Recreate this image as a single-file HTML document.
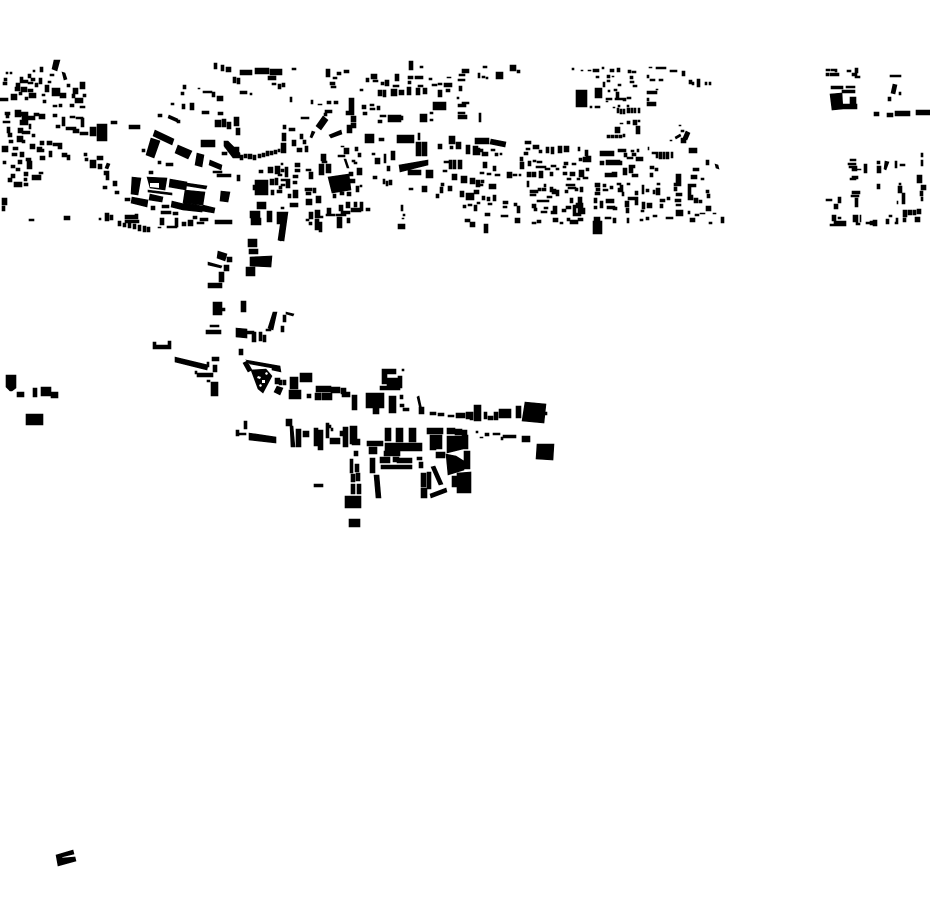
<!DOCTYPE html>
<html><head><meta charset="utf-8"><title>Figure-ground map</title>
<style>html,body{margin:0;padding:0;background:#fff;width:930px;height:924px;overflow:hidden}svg{display:block}</style></head>
<body>
<svg width="930" height="924" viewBox="0 0 930 924" xmlns="http://www.w3.org/2000/svg">
<rect width="930" height="924" fill="#fff"/>
<path fill="#000" stroke="#000" stroke-width="0.6" d="
M54 60L60 60L57 71L52 69z
M33 70h2v2h-2z M40 67h3v5h-3z M6 72h2v2h-2z M10 72h2v2h-2z M4 78h3v3h-3z M3 82h4v3h-4z M20 77h3v3h-3z M28 74h3v4h-3z M31 78h4v3h-4z M39 78h3v6h-3z M50 74h4v2h-4z M48 81h3v2h-3z
M62 72l3 1l2 6l-3 1z M16 83h4v4h-4z M20 80h8v3h-8z M28 82h5v2h-5z M35 83h3v4h-3z M45 85h4v7h-4z M52 88h8v8h-8z M60 93h6v5h-6z M67 84h3v3h-3z M73 88h5v6h-5z M80 82h5v7h-5z M15 87h5v4h-5z M21 87h6v5h-6z M28 89h5v3h-5z
M0 98h8v3h-8z M11 94h6v6h-6z M19 92h3v3h-3z M25 97h3v3h-3z M29 93h7v5h-7z M42 94h3v2h-3z M43 100h3v3h-3z M53 105h4v2h-4z M59 104h3v3h-3z M70 104h4v3h-4z M75 98h8v5h-8z M80 106h5v2h-5z M72 94h3v4h-3z M83 94h3v3h-3z
M5 112h5v3h-5z M15 110h6v7h-6z M20 112h8v4h-8z M22 116h13v4h-13z M34 113h5v3h-5z M39 114h6v5h-6z M53 114h4v3h-4z M62 117h3v9h-3z M70 116h5v2h-5z M76 117h7v2h-7z M81 118h3v9h-3z M56 125h4v3h-4z M66 127h10v3h-10z M73 129h6v4h-6z M80 132h8v3h-8z M90 127h6v9h-6z M97 124h10v17h-10z M111 121h6v3h-6z M129 125h11v4h-11z
M3 121h7v2h-7z M6 115h3v3h-3z M7 127h3v6h-3z M8 133h4v4h-4z M9 140h4v3h-4z M20 120h8v5h-8z M18 128h5v5h-5z M22 131h8v3h-8z M17 136h6v6h-6z M22 140h3v3h-3z M29 124h2v5h-2z M32 134h3v3h-3z
M2 146h6v6h-6z M13 147h5v3h-5z M12 153h5v3h-5z M30 144h5v5h-5z M40 141h4v4h-4z M47 141h5v4h-5z M53 143h5v3h-5z M58 143h4v6h-4z M37 147h5v5h-5z M41 149h3v3h-3z M49 151h3v6h-3z M62 153h5v4h-5z M67 155h3v5h-3z M40 156h5v4h-5z M26 158h5v3h-5z M27 161h5v8h-5z M18 160h4v4h-4z M3 161h3v3h-3z M11 165h4v3h-4z M16 168h4v3h-4z M20 152h4v5h-4z
M39 172h4v2h-4z M32 175h9v5h-9z M24 172h4v4h-4z M11 174h4v4h-4z M8 178h4v4h-4z M24 178h3v3h-3z M14 182h8v5h-8z M24 183h4v3h-4z M2 198h5v7h-5z M2 206h3v5h-3z M29 219h5v2h-5z M64 216h6v4h-6z
M84 153h3v3h-3z M85 158h3v3h-3z M90 160h6v8h-6z M98 164h4v5h-4z M107 163l3 1l-2 5l-3 -1z M97 156h6v4h-6z M104 171h5v4h-5z M106 175h3v5h-3z M113 181h4v5h-4z M103 186h4v3h-4z M115 191h4v3h-4z
M155 130L174 139L172 145L153 136z M151 138L160 141L154 158L146 155z M142 149h3v3h-3z M158 161h3v3h-3z M166 163h7v3h-7z M178 145L192 151L188 159L175 153z M197 153L204 155L202 167L195 165z M210 160L222 165L221 170L209 165z M213 171h9v2h-9z M201 140h14v7h-14z M224 141L228 141L240 153L240 158L233 158L224 146z M217 174h14v3h-14z M237 175h3v6h-3z M221 191L230 192L228 202L220 201z M215 220h17v4h-17z
M132 177L141 178L138 195L131 194z M147 177L167 178L165 190L150 188z M148 190L172 193L172 195L148 192z M150 194L163 197L162 202L149 200z M132 197L148 200L147 207L131 203z
M170 179L187 182L186 190L169 187z M187 183L207 186L206 189L187 186z M185 190L205 192L203 205L183 203z M172 201L184 204L183 210L171 207z M184 203L203 206L202 212L183 210z M203 205L215 208L214 213L202 211z
M125 198h5v3h-5z M149 171h4v3h-4z M151 206h4v4h-4z M162 205h7v3h-7z M161 211h10v3h-10z M173 212h5v3h-5z
M99 218h2v2h-2z M105 213h4v8h-4z M110 215h3v5h-3z M125 215h13v4h-13z M125 220h14v3h-14z M118 221h3v5h-3z M123 223h3v4h-3z M128 223h3v5h-3z M133 224h3v5h-3z M138 225h3v6h-3z M143 226h3v6h-3z M147 227h3v5h-3z M135 214h3v3h-3z M160 218h4v7h-4z M158 227h3v1h-3z M167 226h10v2h-10z M175 218h3v9h-3z M182 222h4v4h-4z M188 220h5v6h-5z M200 218h8v3h-8z M197 222h7v2h-7z M193 216h4v3h-4z
M158 114h4v3h-4z M169 115L178 119L177 122L168 118z M177 120h3v3h-3z M183 85h3v4h-3z M181 92h3v3h-3z M198 88h2v1h-2z M203 91h9v2h-9z M212 92h3v5h-3z M217 96h6v5h-6z M171 103h3v2h-3z M182 104h3v5h-3z M190 103h4v7h-4z M202 111h7v3h-7z M218 112h5v3h-5z M215 120h6v7h-6z M222 119h4v8h-4z M227 122h4v7h-4z M234 117h5v9h-5z M236 128h4v7h-4z M214 63h3v6h-3z M221 65h3v6h-3z M226 67h5v5h-5z M233 77h3v6h-3z M237 78h3v6h-3z
M240 70h12v5h-12z M255 68h14v6h-14z M270 69h12v6h-12z M292 68h4v2h-4z M268 76h8v4h-8z M272 83h4v2h-4z M278 84h3v5h-3z M282 83h3v4h-3z M240 91h7v3h-7z M250 93h2v2h-2z
M326 69h4v8h-4z M333 77h4v2h-4z M337 72h4v3h-4z M344 70h5v3h-5z M330 82h5v3h-5z M331 86h5v2h-5z M360 89h3v2h-3z M366 78h3v4h-3z M371 74h6v5h-6z M373 80h5v2h-5z M381 82h3v3h-3z M385 80h4v6h-4z M395 74h4v7h-4z M393 85h6v2h-6z M409 61h4v9h-4z M420 66h3v2h-3z M408 76h5v3h-5z M415 76h8v3h-8z M429 78h3v2h-3z M408 81h3v3h-3z M418 85h5v2h-5z M432 84h5v2h-5z M438 83h4v2h-4z M444 83h8v4h-8z M447 77h4v1h-4z M462 69h7v4h-7z M459 74h6v2h-6z M458 79h7v2h-7z M459 86h3v5h-3z M478 73h2v5h-2z
M378 90h4v6h-4z M383 90h3v7h-3z M391 89h6v7h-6z M399 90h5v5h-5z M407 87h4v8h-4z M416 88h4v7h-4z M423 88h4v6h-4z M438 90h4v7h-4z M446 89h4v3h-4z
M290 97h2v5h-2z M311 100h2v4h-2z M318 104h4v1h-4z M327 101h4v3h-4z M334 101h4v3h-4z M349 98h5v17h-5z M346 111h4v4h-4z M351 116h5v6h-5z M351 123h5v5h-5z M347 125h5v6h-5z M347 131h5v2h-5z M362 105h4v4h-4z M363 112h4v3h-4z M370 104h4v2h-4z M377 106h3v4h-3z M370 108h5v2h-5z
M325 110h7v3h-7z M324 113h3v3h-3z M323 116L328 120L321 130L316 126z M301 117h8v2h-8z M312 131L315 132L312 138L310 137z M329 135L341 130L342 134L331 138z
M433 102h13v8h-13z M458 115h9v4h-9z M458 112h7v2h-7z M458 104h8v3h-8z M462 102h7v2h-7z M457 97h2v2h-2z M430 112h3v2h-3z M430 119h3v2h-3z M420 114h7v8h-7z M400 116h3v4h-3z M388 115h13v7h-13z M380 115h6v2h-6z M378 120h4v3h-4z M479 113h2v9h-2z
M365 134h9v9h-9z M379 138h5v3h-5z M397 135h17v8h-17z M418 133h2v7h-2z M416 142h5v14h-5z M422 142h5v14h-5z M438 144h4v5h-4z M449 136h6v8h-6z M450 146h3v3h-3z M456 142h5v7h-5z M466 145h4v9h-4z M473 146h5v9h-5z M475 138h5v6h-5z M478 148h2v7h-2z
M283 125h3v4h-3z M289 128h6v3h-6z M282 133h4v8h-4z M281 143h5v10h-5z M292 140h4v6h-4z M300 134h3v5h-3z M303 140h3v4h-3z M297 148h5v4h-5z M305 146h3v6h-3z
M240 155h3v5h-3z M244 154h3v4h-3z M248 154h4v5h-4z M253 155h3v5h-3z M258 154h3v4h-3z M262 153h3v4h-3z M266 151h3v5h-3z M270 151h3v4h-3z M274 150h3v4h-3z M278 149h2v3h-2z
M225 142h3v6h-3z M228 147h11v5h-11z M222 152h5v3h-5z
M281 163h2v2h-2z M259 170h4v3h-4z M268 167h5v6h-5z M275 166h5v8h-5z M285 167h3v7h-3z M295 163h5v4h-5z M295 169h5v3h-5z M281 169h3v3h-3z M278 174h4v2h-4z M285 174h3v3h-3z M293 175h5v3h-5z M270 179h4v6h-4z M275 178h3v7h-3z M281 179h5v2h-5z M281 184h4v2h-4z M286 179h4v9h-4z M293 181h4v3h-4z M271 190h3v5h-3z M277 190h5v3h-5z M279 186h3v3h-3z
M255 180h13v15h-13z M253 185h3v5h-3z M288 194h3v4h-3z M293 190h5v8h-5z M257 202h9v7h-9z M250 211h10v7h-10z M251 218h10v7h-10z M267 211h5v11h-5z M277 212h5v12h-5z M281 207h3v2h-3z M290 203h8v4h-8z M282 212L288 212L284 241L278 240z
M306 169h5v2h-5z M309 172h4v7h-4z M319 164h5v11h-5z M326 164h5v9h-5z M321 154h5v7h-5z M322 161h5v2h-5z M341 146h3v1h-3z M344 148h5v6h-5z M355 147h3v4h-3z M338 155h7v2h-7z M344 159l2 0l3 9l-2 0z M358 153h3v4h-3z M352 160h3v2h-3z M354 162h3v2h-3z M357 168h5v7h-5z M349 172h4v4h-4z M348 179h7v4h-7z
M328 177L349 174L351 190L332 193z M356 186h3v6h-3z M360 185h2v2h-2z M333 194h3v4h-3z M340 192h4v3h-4z M347 192h4v4h-4z M305 188h7v3h-7z M306 192h5v3h-5z M313 188h3v5h-3z M306 199h6v6h-6z M316 196h5v7h-5z
M309 212h4v7h-4z M315 210h5v8h-5z M327 208h4v7h-4z M339 205h4v6h-4z M346 202h4v6h-4z M354 202h3v5h-3z M360 202h3v9h-3z M351 208h10v4h-10z M366 208h4v3h-4z M341 211h9v3h-9z M336 214h10v2h-10z M326 214h9v2h-9z M318 216h5v2h-5z M306 219h3v2h-3z M309 222h3v3h-3z M315 219h4v11h-4z M319 222h3v10h-3z M337 217h5v11h-5z M347 218h3v5h-3z
M373 176h4v3h-4z M383 179h2v5h-2z M386 181h2v5h-2z M389 180h3v5h-3z M387 166h3v5h-3z M375 158h5v6h-5z M384 154h2v9h-2z M372 153h3v2h-3z M391 151h4v9h-4z M409 188h4v2h-4z M422 186h5v6h-5z
M399 165L428 160L428 165L400 172z M408 170h13v5h-13z M426 170h7v8h-7z M449 160h3v9h-3z M453 160h3v9h-3z M458 160h4v9h-4z M444 161h5v2h-5z M443 170h4v2h-4z M452 174h5v6h-5z M461 176h6v7h-6z M470 178h5v6h-5z M476 180h4v7h-4z M441 183h3v3h-3z M440 187h3v6h-3z M448 186h4v5h-4z M436 194h3v4h-3z M460 191h4v6h-4z M466 193h8v7h-8z M474 190h5v4h-5z M463 205h3v3h-3z M468 204h4v2h-4z M474 205h3v6h-3z M465 219h5v3h-5z M470 222h5v5h-5z M477 202h3v2h-3z
M401 205h2v6h-2z M403 214h2v2h-2z M402 218h2v1h-2z M398 224h7v5h-7z
M483 66h4v2h-4z M482 76h3v2h-3z M486 77h2v2h-2z M496 72h7v7h-7z M510 65h6v6h-6z M517 70h3v3h-3z
M572 68h2v2h-2z M581 70h2v1h-2z M588 70h3v1h-3z M593 69h6v3h-6z M602 67h2v2h-2z M610 69h4v3h-4z M617 68h3v4h-3z M628 70h3v3h-3z M632 71h4v2h-4z M649 67h3v1h-3z M656 67h6v2h-6z M662 67h4v2h-4z M670 70h7v2h-7z M682 71h3v5h-3z M689 80h3v4h-3z M692 82h2v3h-2z M697 79h3v8h-3z M705 82h2v3h-2z M709 82h2v3h-2z
M596 76h3v2h-3z M607 75h3v3h-3z M612 76h2v1h-2z M607 80h3v2h-3z M618 84h3v2h-3z M603 82h2v5h-2z M630 76h3v3h-3z M630 81h4v2h-4z M633 85h4v2h-4z M647 75h2v3h-2z M650 79h5v2h-5z M659 79h4v2h-4z
M576 90h11v17h-11z M595 88h7v10h-7z M608 90h2v2h-2z M614 89h3v2h-3z M616 92h3v8h-3z M606 98h6v2h-6z M623 98h3v3h-3z M627 97h4v2h-4z M615 98h8v2h-8z M595 106h5v2h-5z M590 106h2v2h-2z M606 101h2v1h-2z
M647 91h10v3h-10z M647 98h2v3h-2z M647 102h9v4h-9z M656 89h2v1h-2z
M617 108h2v5h-2z M620 109h2v5h-2z M623 109h2v5h-2z M627 108h3v5h-3z M631 108h2v5h-2z M634 108h2v5h-2z M638 108h2v5h-2z M618 105h2v2h-2z M613 107h2v1h-2z M627 105h2v2h-2z
M620 123h3v1h-3z M627 121h3v3h-3z M633 120h4v5h-4z M638 120h2v2h-2z M615 127h5v6h-5z M636 126h4v8h-4z M607 135h3v3h-3z M611 135h3v3h-3z M615 135h3v3h-3z M619 135h3v3h-3z M623 134h2v3h-2z
M679 125h2v1h-2z M681 130h3v2h-3z M675 137l5 -3l1 2l-5 3z M670 140h2v1h-2z M686 131l4 2l-3 7l-4 -2z M681 138h5v5h-5z M689 148h8v5h-8z M706 160h3v5h-3z M715 164l3 1l1 4l-3 -1z M693 168h6v3h-6z
M480 138h9v6h-9z M491 139l15 3l-1 5l-15 -3z M482 152h6v4h-6z M480 149h3v3h-3z M491 149h4v2h-4z M495 153h3v3h-3z M500 153h2v2h-2z M483 162h4v6h-4z M493 166h3v5h-3z M480 172h4v2h-4z M487 173h4v2h-4z M495 174h5v2h-5z M507 172h5v6h-5z M513 174h4v2h-4z M519 174h2v2h-2z M489 184h7v5h-7z M481 180h3v3h-3z M480 184h3v2h-3z M482 196h3v4h-3z M487 197h3v4h-3z M493 195h3v6h-3z M488 203h4v2h-4z M503 201h5v3h-5z M503 206h4v2h-4z M514 203h3v3h-3z M517 206h3v7h-3z M485 213h5v3h-5z M501 215h7v2h-7z M515 218h5v5h-5z M484 224h4v9h-4z
M525 141h6v3h-6z M533 145h6v4h-6z M526 148h4v2h-4z M539 150h3v3h-3z M546 147h3v6h-3z M551 147h3v7h-3z M558 146h4v7h-4z M564 146h5v6h-5z M578 147h2v4h-2z M524 152h4v3h-4z M520 157h3v4h-3z M520 162h4v7h-4z M528 161h3v5h-3z M533 160h3v2h-3z M537 161h5v2h-5z M536 166h10v2h-10z M545 168h5v2h-5z M551 165h5v2h-5z M556 168h3v2h-3z M564 162h4v3h-4z M563 166h3v2h-3z M572 163h4v2h-4z M579 158h3v3h-3z M585 150h3v6h-3z M586 156h5v6h-5z M583 157h3v5h-3z M600 151h14v5h-14z M606 160h14v5h-14z M600 161h4v4h-4z M618 161h4v4h-4z M618 149h8v3h-8z M624 153h3v4h-3z M631 150h3v2h-3z M637 149h2v3h-2z M632 153h4v3h-4z M636 157h7v4h-7z M627 157h6v2h-6z M652 152h5v2h-5z M648 147h1v3h-1z M656 152h2v6h-2z M659 152h3v7h-3z M663 152h2v7h-2z M666 152h3v7h-3z M671 152h2v6h-2z
M527 172h4v5h-4z M532 172h4v5h-4z M539 171h4v7h-4z M550 172h3v4h-3z M563 172h4v3h-4z M570 172h5v4h-5z M579 170h5v7h-5z M586 168h3v3h-3z M605 173h9v4h-9z M612 172h5v5h-5z M623 168h4v7h-4z M629 165h4v8h-4z M632 165h3v3h-3z M632 174h6v3h-6z M650 166h4v3h-4z M655 168h3v3h-3z M650 173h3v4h-3z M617 183h4v2h-4z
M676 174h5v10h-5z M674 183h7v3h-7z M691 175h6v4h-6z M701 178h3v2h-3z M688 184h8v3h-8z
M527 181h2v6h-2z M530 190h8v3h-8z M530 194h6v2h-6z M538 188h3v3h-3z M544 184h2v3h-2z M542 188h4v3h-4z M550 187h3v5h-3z M552 189h4v5h-4z M556 190h3v6h-3z M567 178h4v2h-4z M577 178h3v2h-3z M583 177h5v2h-5z M566 184h9v2h-9z M568 187h8v2h-8z M575 188h3v3h-3z M565 190h3v3h-3z M580 187h3v5h-3z M595 183h5v4h-5z M603 184h3v3h-3z M596 188h4v3h-4z M595 192h5v3h-5z M603 189h5v2h-5z M610 186h3v3h-3z M620 185h3v4h-3z M618 188h5v4h-5z M627 183h3v2h-3z M622 192h2v4h-2z M635 191h3v4h-3z M642 185h2v9h-2z M646 189h3v3h-3z M653 190h2v4h-2z M656 188h4v7h-4z M657 183h3v2h-3z M674 187h3v4h-3z M688 186h3v9h-3z M688 195h5v5h-5z M694 198h4v5h-4z M699 200h3v3h-3z M706 190h3v3h-3z M707 194h3v4h-3z M676 193h6v3h-6z M675 199h6v3h-6z M676 204h5v2h-5z M660 199h5v3h-5z M667 197h3v3h-3z M660 204h3v4h-3z
M537 200h12v2h-12z M532 204h4v4h-4z M534 208h3v3h-3z M547 196h5v2h-5z M544 207h4v2h-4z M553 206h4v6h-4z M551 211h6v3h-6z M541 211h6v2h-6z M562 209h4v3h-4z M570 198h3v5h-3z M566 206h5v3h-5z M573 205h3v9h-3z M578 197h4v6h-4z M576 203h7v5h-7z M578 208h7v6h-7z M573 213h8v3h-8z M594 198h3v5h-3z M594 206h3v3h-3z M600 201h3v7h-3z M606 199h8v4h-8z M607 206h8v3h-8z M613 207h4v3h-4z M625 201h4v6h-4z M628 197h10v3h-10z M635 200h3v5h-3z M626 208h3v5h-3z M642 202h3v7h-3z M647 203h5v5h-5z M641 210h3v2h-3z
M537 220h4v3h-4z M532 222h4v2h-4z M553 218h5v4h-5z M560 222h3v2h-3z M567 218h3v3h-3z M570 220h8v4h-8z M578 218h5v3h-5z M594 217h6v4h-6z M593 221h9v13h-9z M605 217h6v2h-6z M613 218h3v5h-3z M627 218h2v5h-2z M640 219h3v2h-3z M646 217h3v3h-3z M653 215h4v2h-4z M666 217h7v2h-7z M676 210h7v6h-7z M690 218h5v4h-5z M688 211h2v3h-2z M695 214h4v2h-4z M700 213h5v1h-5z M706 206h5v5h-5z M709 222h3v2h-3z M721 217h3v6h-3z M713 213h3v1h-3z
M826 69h4v2h-4z M831 69h4v2h-4z M835 69h2v3h-2z M826 73h3v3h-3z M830 73h9v3h-9z M847 70h4v2h-4z M852 73h5v3h-5z M855 68h3v5h-3z M855 76h5v2h-5z
M830 94L842 93L843 109L832 110z M831 86h12v3h-12z M846 86h9v2h-9z M842 90h13v3h-13z M842 104h15v5h-15z M850 97h6v10h-6z
M890 75h11v2h-11z M893 84l4 1l-2 9l-4 -1z M899 92h2v3h-2z M888 97h3v4h-3z
M874 112h5v4h-5z M887 113h6v4h-6z M895 111h15v5h-15z M916 110h14v5h-14z
M850 159h6v2h-6z M848 163h8v2h-8z M849 166h8v2h-8z M857 169h4v1h-4z M864 164h3v9h-3z M852 168h5v3h-5z M852 176h6v3h-6z M850 178h6v2h-6z M877 161h3v3h-3z M877 166h4v7h-4z M877 184h3v5h-3z M885 161L889 162L886 170L884 169z M895 161h2v7h-2z M900 164h5v2h-5z M921 153h2v4h-2z M921 160h2v6h-2z M917 175h5v8h-5z M921 185h5v5h-5z M920 191h3v5h-3z M921 197h2v4h-2z M899 183h2v2h-2z M898 186h4v7h-4z M902 193h3v11h-3z M897 201h1v3h-1z M852 191h8v3h-8z M851 195h8v2h-8z M855 198h3v9h-3z M826 199h6v2h-6z M838 197h3v6h-3z M834 204h4v5h-4z
M832 215h4v6h-4z M838 217h3v2h-3z M834 221h12v5h-12z M830 224h4v2h-4z M853 215h3v7h-3z M856 215h2v8h-2z M860 215h1v7h-1z M856 223h4v2h-4z M866 222h4v2h-4z M873 220h4v6h-4z M870 221h3v4h-3z M886 219h3v5h-3z M889 215h3v2h-3z M896 218h2v4h-2z M895 222h3v2h-3z M903 210h4v7h-4z M903 218h3v4h-3z M908 210h4v5h-4z M913 210h3v5h-3z M917 209h4v5h-4z M915 217h5v5h-5z
M248 239h9v8h-9z M249 249h9v5h-9z M250 257L272 256L271 267L250 266z M246 267h9v9h-9z M279 235L283 235L281 241L278 240z
M218 251L227 254L225 261L217 258z M227 257h5v5h-5z M208 262L222 266L221 268L208 265z M224 265h5v6h-5z M219 272h5v10h-5z M208 283h14v5h-14z
M213 302h9v13h-9z M222 308h3v3h-3z M210 325h9v2h-9z M206 330h15v4h-15z M241 301h5v11h-5z M273 312L277 312L273 330L268 328z M266 329h5v2h-5z M283 315h3v7h-3z M281 326h3v6h-3z M286 312l8 2l-1 2l-7 -2z
M236 328L247 329L247 338L236 337z M247 331h7v3h-7z M252 332h4v10h-4z M259 332h3v9h-3z M263 335h3v7h-3z M239 349h4v6h-4z
M153 342h3v7h-3z M153 345h18v4h-18z M168 341h3v8h-3z
M175 357L208 365L207 370L175 362z M212 357h7v4h-7z M207 362h2v5h-2z M213 365h4v7h-4z M195 371h2v3h-2z M197 373h16v4h-16z M207 380h3v2h-3z M211 382h7v14h-7z
M246 360L280 366L281 372L272 370L272 368L250 364z M243 363L247 361L252 370L248 372z
M251 370L266 369L272 376L263 393L258 389z
M275 378h5v6h-5z M279 380h3v5h-3z M283 380h3v5h-3z M277 386L283 388L280 395L274 392z
M290 377h8v12h-8z M300 373h12v9h-12z M289 390h12v9h-12z M316 386h15v6h-15z M331 387h9v6h-9z M341 388h5v6h-5z M345 392h5v3h-5z M307 394h4v4h-4z M315 393h6v7h-6z M322 393h10v7h-10z M342 394h8v3h-8z
M352 395h5v15h-5z M366 393h18v15h-18z M373 408h6v6h-6z M389 396h7v17h-7z M380 386h20v4h-20z
M382 369h14v5h-14z M382 374h5v10h-5z M387 378h15v8h-15z M398 376h4v12h-4z M400 395h3v4h-3z
M244 421h3v8h-3z M236 430h3v6h-3z M239 433h7v2h-7z M249 433L276 437L276 443L249 440z
M286 419h6v7h-6z M290 426L293 426L295 447L291 447z M296 429h5v18h-5z M303 431h6v6h-6z M314 428h4v18h-4z M318 430h5v20h-5z M326 423h3v15h-3z M328 425h3v3h-3z M331 428h2v3h-2z M330 438h10v6h-10z M340 431h5v5h-5z M343 427h5v20h-5z M350 426h7v18h-7z M352 439h8v6h-8z
M367 441h16v5h-16z M385 428h6v13h-6z M396 428h7v14h-7z M409 428h7v14h-7z M385 443h37v8h-37z M369 447h8v7h-8z M370 458h5v15h-5z M374 475h5l2 23h-5z M384 451h16v5h-16z M380 457h10v6h-10z M393 457h6v5h-6z M381 465h20v4h-20z M397 458h15v5h-15z M392 465h20v4h-20z M417 457h5v3h-5z M419 462h4v6h-4z
M427 428h16v6h-16z M430 435h6v15h-6z M436 435h6v14h-6z M436 452h9v6h-9z M447 428h8v6h-8z M455 429h7v6h-7z M462 430h5v6h-5z M463 435h5v14h-5z M447 436L463 436L463 449L447 453z
M446 454L456 456L464 461L464 470L448 475z M464 451h6v18h-6z M457 473L471 472L471 493L457 493z M452 476h6v11h-6z
M431 467L435 466L443 484L439 485z M421 473h5v14h-5z M427 472h4v17h-4z M421 488h6v10h-6z M430 494L446 488L447 492L431 498z
M474 405h7v16h-7z M470 412h3v8h-3z M417 397L419 396L422 410L420 410z M419 407h5v7h-5z M430 412h6v3h-6z M438 413h6v3h-6z M448 415h6v2h-6z M456 413h9v5h-9z M466 412h4v7h-4z M484 412h3v7h-3z M488 416h5v4h-5z M494 412h4v8h-4z M499 409h12v9h-12z M516 406h5v12h-5z M525 402L546 404L544 423L522 421z M545 412h2v3h-2z
M402 369h2v2h-2z M403 408h6v3h-6z M400 404h4v3h-4z
M476 431h2v2h-2z M480 437h3v1h-3z M485 433h4v3h-4z M493 433h7v2h-7z M501 437h2v3h-2z M503 435h13v3h-13z M522 436h8v6h-8z
M537 444L554 444L553 460L536 459z
M354 451h4v5h-4z M350 459h3v14h-3z M355 464h4v8h-4z M351 474h4v8h-4z M356 473h4v8h-4z M351 484h4v10h-4z M357 484h4v10h-4z M345 496h16v12h-16z M349 519h11v8h-11z M314 484h9v3h-9z
M6 375L16 375L16 388L12 391L10 391L6 387z M17 392h7v5h-7z M33 388h4v9h-4z M41 387h10v9h-10z M51 392h7v6h-7z M26 414h17v11h-17z
M56 855L73 850L74 854L62 857L62 858L75 857L76 861L58 866z
"/>
<path fill="#fff" d="M150 183h9v5l-9 -1z M262 380h3v3h-3z M258 376l3 1l-1 2l-3 -1z M266 372l2 1l-1 2l-2 -1z M259 385l2 -1l1 2l-2 1z"/>
</svg>
</body></html>
